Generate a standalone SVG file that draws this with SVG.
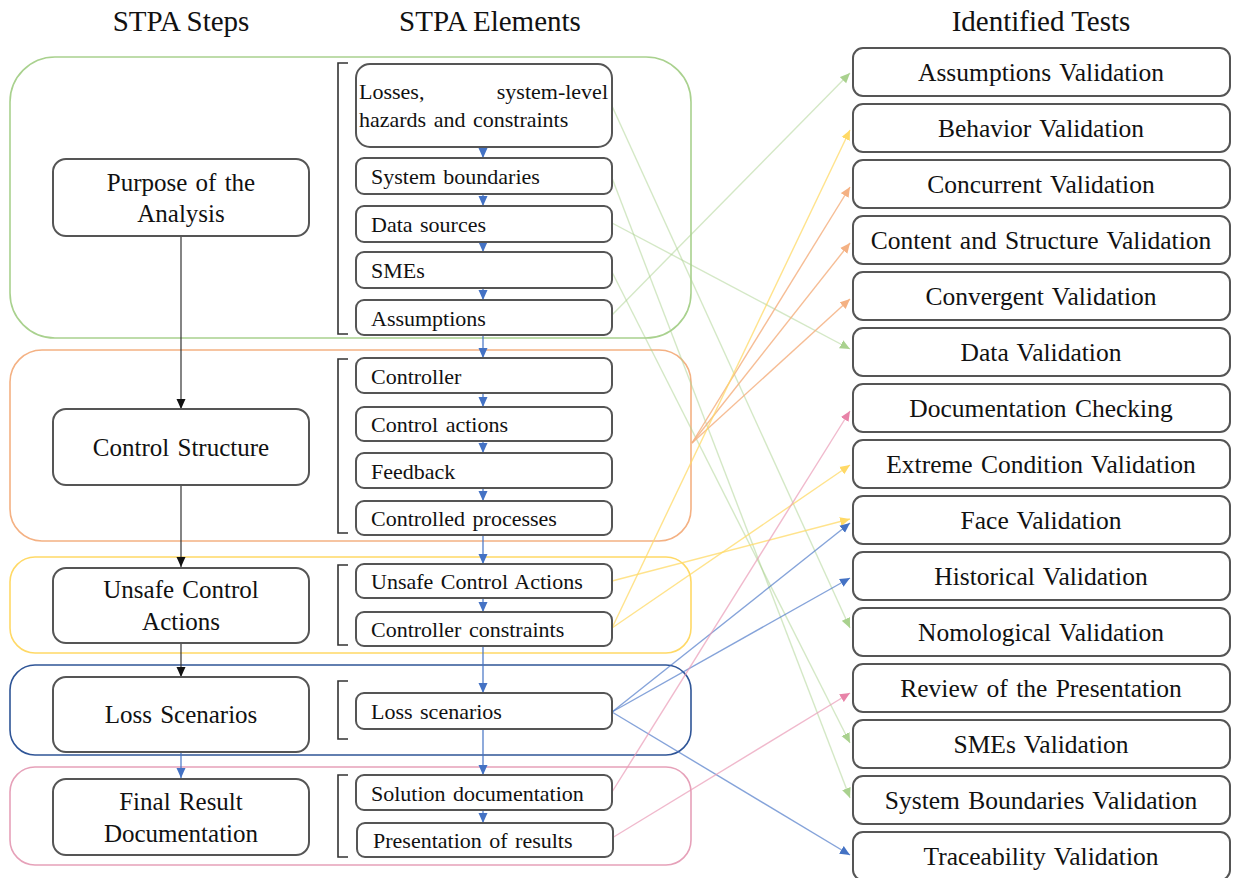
<svg xmlns="http://www.w3.org/2000/svg" width="1238" height="878" viewBox="0 0 1238 878">
<style>
text{font-family:"Liberation Serif","Times New Roman",serif;fill:#111}
.hdr{font-size:29px;text-anchor:middle}
.step{font-size:25px;text-anchor:middle;word-spacing:2px}
.el{font-size:22px;word-spacing:2px}
.test{font-size:25.5px;text-anchor:middle;word-spacing:2px}
.sbox{fill:#fff;stroke:#555;stroke-width:2}
.ebox{fill:#fff;stroke:#555;stroke-width:2}
.tbox{fill:#fff;stroke:#555;stroke-width:2}
.grp{fill:none;stroke-width:1.6}
.brk{fill:none;stroke:#333;stroke-width:1.6}
.c{fill:none;stroke-width:1.4;stroke-opacity:0.5}
.g{stroke:#A9D18E;marker-end:url(#mg)}
.o{stroke:#F4B183;stroke-opacity:0.85;marker-end:url(#mo)}
.y{stroke:#FFD966;stroke-opacity:0.75;marker-end:url(#my)}
.b{stroke:#4472C4;stroke-opacity:0.65;marker-end:url(#mb)}
.p{stroke:#E99BB6;stroke-opacity:0.7;marker-end:url(#mp)}
.mini{stroke:#4472C4;stroke-width:1.2;fill:none;marker-end:url(#mb)}
.blk{stroke:#333;stroke-width:1.2;fill:none;marker-end:url(#mk)}
</style>
<defs>
<marker id="mg" viewBox="0 0 10 10" refX="10" refY="5" markerWidth="10" markerHeight="10" markerUnits="userSpaceOnUse" orient="auto"><path d="M0,0.5 L10,5 L0,9.5 z" fill="#A9D18E"/></marker>
<marker id="mo" viewBox="0 0 10 10" refX="10" refY="5" markerWidth="10" markerHeight="10" markerUnits="userSpaceOnUse" orient="auto"><path d="M0,0.5 L10,5 L0,9.5 z" fill="#F4B183"/></marker>
<marker id="my" viewBox="0 0 10 10" refX="10" refY="5" markerWidth="10" markerHeight="10" markerUnits="userSpaceOnUse" orient="auto"><path d="M0,0.5 L10,5 L0,9.5 z" fill="#FFD966"/></marker>
<marker id="mb" viewBox="0 0 10 10" refX="10" refY="5" markerWidth="10" markerHeight="10" markerUnits="userSpaceOnUse" orient="auto"><path d="M0,0.5 L10,5 L0,9.5 z" fill="#4472C4"/></marker>
<marker id="mp" viewBox="0 0 10 10" refX="10" refY="5" markerWidth="10" markerHeight="10" markerUnits="userSpaceOnUse" orient="auto"><path d="M0,0.5 L10,5 L0,9.5 z" fill="#E883A8"/></marker>
<marker id="mk" viewBox="0 0 10 10" refX="10" refY="5" markerWidth="10" markerHeight="10" markerUnits="userSpaceOnUse" orient="auto"><path d="M0,0.5 L10,5 L0,9.5 z" fill="#111"/></marker>
</defs>
<rect width="1238" height="878" fill="#fff"/>

<g id="headers">
<text class="hdr" x="181" y="31">STPA Steps</text>
<text class="hdr" x="490" y="31">STPA Elements</text>
<text class="hdr" x="1041" y="31">Identified Tests</text>
</g>

<g id="groups">
<rect id="grp-purpose" class="grp" x="10" y="57" width="681" height="281" rx="45" stroke="#A9D18E"/>
<rect id="grp-control" class="grp" x="10" y="350" width="681" height="191" rx="32" stroke="#F4B183"/>
<rect id="grp-uca" class="grp" x="10" y="557" width="681" height="96" rx="25" stroke="#FFD966"/>
<rect id="grp-loss" class="grp" x="10" y="665" width="681" height="90" rx="25" stroke="#2F5597"/>
<rect id="grp-final" class="grp" x="10" y="767" width="681" height="98" rx="25" stroke="#E6A1B9"/>
</g>

<g id="brackets">
<path class="brk" d="M348,63 H338 V334 H348"/>
<path class="brk" d="M348,359 H338 V533 H348"/>
<path class="brk" d="M348,565 H338 V645 H348"/>
<path class="brk" d="M348,681 H338 V739 H348"/>
<path class="brk" d="M348,775 H338 V857 H348"/>
</g>

<g id="connectors">
<path class="blk" d="M181,236 V409"/>
<path class="blk" d="M181,485 V567"/>
<path class="blk" d="M181,643 V677"/>
<path class="mini" d="M181,752 V778"/>
<path class="mini" d="M483,147 V158"/>
<path class="mini" d="M483,194 V206"/>
<path class="mini" d="M483,242 V252"/>
<path class="mini" d="M483,288 V300"/>
<path class="mini" d="M483,335 V358"/>
<path class="mini" d="M483,393 V407"/>
<path class="mini" d="M483,441 V453"/>
<path class="mini" d="M483,488 V501"/>
<path class="mini" d="M483,535 V564"/>
<path class="mini" d="M483,598 V612"/>
<path class="mini" d="M483,646 V693"/>
<path class="mini" d="M483,729 V775"/>
<path class="mini" d="M483,810 V823"/>
<path class="c g" d="M612,106 L850,628"/>
<path class="c g" d="M612,178 L850,798"/>
<path class="c g" d="M612,223 L850,349"/>
<path class="c g" d="M612,272 L850,743"/>
<path class="c g" d="M612,315 L850,73"/>
<path class="c o" d="M692,443 L850,187"/>
<path class="c o" d="M692,443 L850,243"/>
<path class="c o" d="M692,443 L850,299"/>
<path class="c y" d="M612,581 L850,519"/>
<path class="c y" d="M612,628 L850,130"/>
<path class="c y" d="M612,628 L850,465"/>
<path class="c b" d="M612,712 L850,523"/>
<path class="c b" d="M612,712 L850,578"/>
<path class="c b" d="M612,712 L850,855"/>
<path class="c p" d="M612,792 L850,411"/>
<path class="c p" d="M612,838 L850,693"/>
</g>

<g id="step-purpose"><rect class="sbox" x="53" y="159" width="256" height="77" rx="13"/><text class="step" x="181" y="191">Purpose of the</text><text class="step" x="181" y="222">Analysis</text></g>
<g id="step-control"><rect class="sbox" x="53" y="409" width="256" height="76" rx="13"/><text class="step" x="181" y="456">Control Structure</text></g>
<g id="step-uca"><rect class="sbox" x="53" y="568" width="256" height="75" rx="13"/><text class="step" x="181" y="598">Unsafe Control</text><text class="step" x="181" y="630">Actions</text></g>
<g id="step-loss"><rect class="sbox" x="53" y="677" width="256" height="75" rx="13"/><text class="step" x="181" y="723">Loss Scenarios</text></g>
<g id="step-final"><rect class="sbox" x="53" y="779" width="256" height="76" rx="13"/><text class="step" x="181" y="810">Final Result</text><text class="step" x="181" y="842">Documentation</text></g>

<g id="el-losses"><rect class="ebox" x="356" y="64" width="256" height="83" rx="14"/><text class="el" x="359" y="99">Losses,</text><text class="el" x="608" y="99" text-anchor="end">system-level</text><text class="el" x="359" y="127">hazards and constraints</text></g>
<g id="el-sysb"><rect class="ebox" x="356" y="158" width="256" height="36" rx="8"/><text class="el" x="371" y="184">System boundaries</text></g>
<g id="el-data"><rect class="ebox" x="356" y="206" width="256" height="36" rx="8"/><text class="el" x="371" y="232">Data sources</text></g>
<g id="el-smes"><rect class="ebox" x="356" y="252" width="256" height="36" rx="8"/><text class="el" x="371" y="278">SMEs</text></g>
<g id="el-assump"><rect class="ebox" x="356" y="300" width="256" height="35" rx="8"/><text class="el" x="371" y="326">Assumptions</text></g>
<g id="el-controller"><rect class="ebox" x="356" y="358" width="256" height="35" rx="8"/><text class="el" x="371" y="384">Controller</text></g>
<g id="el-actions"><rect class="ebox" x="356" y="407" width="256" height="34" rx="8"/><text class="el" x="371" y="432">Control actions</text></g>
<g id="el-feedback"><rect class="ebox" x="356" y="453" width="256" height="35" rx="8"/><text class="el" x="371" y="479">Feedback</text></g>
<g id="el-processes"><rect class="ebox" x="356" y="501" width="256" height="34" rx="8"/><text class="el" x="371" y="526">Controlled processes</text></g>
<g id="el-uca"><rect class="ebox" x="356" y="564" width="256" height="34" rx="8"/><text class="el" x="371" y="589">Unsafe Control Actions</text></g>
<g id="el-constraints"><rect class="ebox" x="356" y="612" width="256" height="34" rx="8"/><text class="el" x="371" y="637">Controller constraints</text></g>
<g id="el-scenarios"><rect class="ebox" x="356" y="693" width="256" height="36" rx="8"/><text class="el" x="371" y="719">Loss scenarios</text></g>
<g id="el-solution"><rect class="ebox" x="356" y="775" width="256" height="35" rx="8"/><text class="el" x="371" y="801">Solution documentation</text></g>
<g id="el-presentation"><rect class="ebox" x="357" y="823" width="256" height="34" rx="8"/><text class="el" x="373" y="848">Presentation of results</text></g>

<g id="test-assumptions"><rect class="tbox" x="853" y="48" width="377" height="48" rx="10"/><text class="test" x="1041" y="81">Assumptions Validation</text></g>
<g id="test-behavior"><rect class="tbox" x="853" y="104" width="377" height="48" rx="10"/><text class="test" x="1041" y="137">Behavior Validation</text></g>
<g id="test-concurrent"><rect class="tbox" x="853" y="160" width="377" height="48" rx="10"/><text class="test" x="1041" y="193">Concurrent Validation</text></g>
<g id="test-content"><rect class="tbox" x="853" y="216" width="377" height="48" rx="10"/><text class="test" x="1041" y="249">Content and Structure Validation</text></g>
<g id="test-convergent"><rect class="tbox" x="853" y="272" width="377" height="48" rx="10"/><text class="test" x="1041" y="305">Convergent Validation</text></g>
<g id="test-data"><rect class="tbox" x="853" y="328" width="377" height="48" rx="10"/><text class="test" x="1041" y="361">Data Validation</text></g>
<g id="test-doc"><rect class="tbox" x="853" y="384" width="377" height="48" rx="10"/><text class="test" x="1041" y="417">Documentation Checking</text></g>
<g id="test-extreme"><rect class="tbox" x="853" y="440" width="377" height="48" rx="10"/><text class="test" x="1041" y="473">Extreme Condition Validation</text></g>
<g id="test-face"><rect class="tbox" x="853" y="496" width="377" height="48" rx="10"/><text class="test" x="1041" y="529">Face Validation</text></g>
<g id="test-historical"><rect class="tbox" x="853" y="552" width="377" height="48" rx="10"/><text class="test" x="1041" y="585">Historical Validation</text></g>
<g id="test-nomological"><rect class="tbox" x="853" y="608" width="377" height="48" rx="10"/><text class="test" x="1041" y="641">Nomological Validation</text></g>
<g id="test-review"><rect class="tbox" x="853" y="664" width="377" height="48" rx="10"/><text class="test" x="1041" y="697">Review of the Presentation</text></g>
<g id="test-smes"><rect class="tbox" x="853" y="720" width="377" height="48" rx="10"/><text class="test" x="1041" y="753">SMEs Validation</text></g>
<g id="test-sysb"><rect class="tbox" x="853" y="776" width="377" height="48" rx="10"/><text class="test" x="1041" y="809">System Boundaries Validation</text></g>
<g id="test-trace"><rect class="tbox" x="853" y="832" width="377" height="48" rx="10"/><text class="test" x="1041" y="865">Traceability Validation</text></g>
</svg>
